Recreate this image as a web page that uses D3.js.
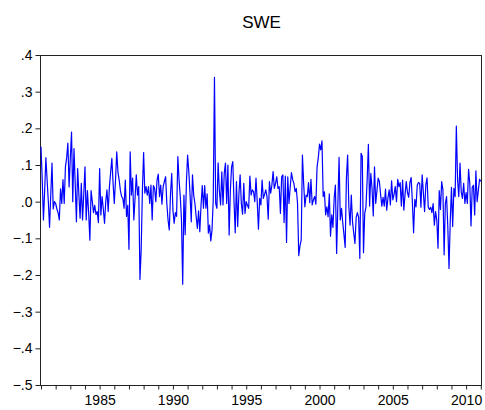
<!DOCTYPE html>
<html>
<head>
<meta charset="utf-8">
<script src="https://cdn.jsdelivr.net/npm/d3@7"></script>
<style>
  body { margin: 0; background: #fff; }
  text { font-family: "Liberation Sans", Arial, sans-serif; }
  .axis path { display: none; }
  .axis line { stroke: #222; }
  .axis text { fill: #000; font-size: 14px; }
</style>
</head>
<body>
<div class="container"></div>
<script>
const WIDTH = 485;
const HEIGHT = 410;
const LEFT = 41;
const RIGHT = 482;
const TOP = 55;
const BOTTOM = 385;

const TITLE = 'SWE';
const START_YEAR = 1981;

// monthly values, 1981M01 ...
const swe1981_1990 = [
  0.15, 0.06, -0.05, 0.03, 0.12, 0.06, 0.0, -0.07, 0.02, 0.105, -0.02, 0.0,
  -0.005, -0.02, -0.03, -0.05, 0.035, -0.005, 0.06, -0.005, 0.095, 0.12, 0.16, 0.04,
  0.12, 0.19, 0.0, 0.145, 0.05, -0.055, 0.09, 0.02, -0.045, 0.05, -0.05, 0.02,
  0.095, -0.05, 0.03, -0.03, -0.105, 0.03, 0.0, -0.03, -0.01, -0.035, -0.027, -0.057,
  0.09, -0.036, 0.014, -0.02, -0.059, 0.0, 0.032, -0.027, 0.04, 0.08, 0.118, 0.05,
  -0.005, 0.06, 0.136, 0.08, 0.059, 0.03, 0.014, 0.009, -0.018, 0.059, -0.04, -0.01,
  -0.13, 0.136, 0.018, 0.064, -0.05, 0.01, 0.073, 0.018, 0.041, -0.212, -0.132, 0.03,
  0.134, 0.023, 0.041, 0.018, 0.041, -0.005, 0.045, -0.05, 0.044, 0.036, 0.0, 0.059,
  0.075, 0.014, 0.045, -0.007, 0.041, 0.055, 0.068, -0.005, -0.05, -0.077, 0.02, 0.077,
  -0.023, -0.059, -0.03, -0.04, 0.123, 0.06, 0.014, -0.05, -0.225, 0.018, -0.09, 0.05
];
const swe1991_2000 = [
  0.127, 0.082, 0.02, -0.055, 0.073, 0.018, -0.005, -0.04, -0.073, -0.025, -0.082, -0.01,
  0.044, -0.018, 0.044, -0.018, 0.021, -0.086, -0.064, -0.107, -0.077, 0.005, 0.339, -0.005,
  -0.018, 0.106, 0.03, -0.009, 0.081, -0.009, 0.077, 0.105, -0.005, 0.1, -0.091, 0.03,
  0.095, 0.109, 0.0, -0.085, 0.055, -0.068, 0.02, 0.073, -0.005, -0.034, 0.05, -0.032,
  0.0, -0.01, -0.018, 0.07, 0.018, 0.032, 0.027, 0.0, 0.064, 0.0, -0.075, 0.009,
  -0.009, 0.059, 0.009, 0.02, 0.032, 0.014, -0.048, 0.055, 0.023, 0.045, 0.082, 0.036,
  0.05, 0.068, 0.036, 0.041, -0.032, 0.068, 0.073, -0.057, 0.07, -0.111, 0.068, -0.005,
  0.04, 0.079, 0.06, 0.05, 0.027, 0.036, -0.005, -0.147, -0.12, -0.105, 0.127, 0.05,
  -0.014, 0.018, 0.014, 0.052, -0.003, 0.061, -0.009, 0.005, 0.014, -0.007, 0.095, 0.12,
  0.157, 0.141, 0.166, 0.014, 0.027, -0.036, -0.014, -0.041, 0.021, -0.094, -0.036, -0.07
];
const swe2001_2011 = [
  0.01, 0.045, -0.141, -0.01, 0.121, -0.05, -0.018, -0.057, -0.09, -0.125, 0.064, 0.127,
  -0.014, -0.064, 0.018, -0.055, -0.086, -0.114, -0.043, -0.03, -0.043, -0.155, 0.132, 0.123,
  -0.139, -0.032, -0.015, 0.06, 0.156, -0.012, 0.077, 0.036, -0.039, 0.095, -0.005, 0.03,
  0.064, 0.055, 0.02, -0.012, 0.012, -0.012, 0.034, -0.023, 0.01, 0.032, -0.009, 0.057,
  0.005, 0.02, 0.041, 0.0, 0.061, 0.041, 0.052, -0.012, 0.059, -0.023, 0.02, 0.055,
  0.025, 0.012, 0.052, 0.066, 0.0, -0.085, 0.006, -0.014, 0.045, 0.052, 0.05, -0.015,
  0.073, 0.025, -0.027, 0.045, 0.065, -0.015, -0.021, -0.015, -0.03, -0.005, -0.064, -0.027,
  -0.05, -0.127, 0.03, -0.021, 0.055, 0.032, -0.145, -0.005, 0.014, -0.068, -0.182, -0.055,
  0.039, -0.068, 0.036, 0.014, 0.206, 0.06, 0.014, 0.105, 0.027, 0.009, 0.05, -0.005,
  0.025, -0.005, 0.088, 0.05, -0.066, 0.039, 0.045, -0.036, 0.084, 0.0, 0.03, 0.061,
  0.055
];

const yTicks = [-0.5, -0.4, -0.3, -0.2, -0.1, 0.0, 0.1, 0.2, 0.3, 0.4];
const xTickYears = d3.range(1981, 2012);
const xLabelYears = [1985, 1990, 1995, 2000, 2005, 2010];

var values = swe1981_1990.concat(swe1991_2000, swe2001_2011);
var data = values.map(function (v, i) {
  return { t: START_YEAR + i / 12, v: v };
});

var svg = d3.select('.container').append('svg')
  .attr('width', WIDTH)
  .attr('height', HEIGHT);

var x = d3.scaleLinear()
  .domain([START_YEAR, START_YEAR + 361 / 12])
  .range([LEFT, RIGHT]);

var y = d3.scaleLinear()
  .domain([-0.5, 0.4])
  .range([BOTTOM, TOP]);

var yFormat = function (d) {
  return d3.format('.1f')(d).replace('0.', '.');
};

var yAxis = d3.axisLeft(y)
  .tickValues(yTicks)
  .tickSize(5)
  .tickPadding(3)
  .tickFormat(yFormat);

svg.append('g')
  .classed('axis', true)
  .attr('transform', 'translate(' + (LEFT - 0.5) + ',0)')
  .call(yAxis);

var xAxis = d3.axisBottom(x)
  .tickValues(xTickYears)
  .tickSize(4)
  .tickPadding(6)
  .tickFormat(function (d) { return xLabelYears.indexOf(d) >= 0 ? d : ''; });

svg.append('g')
  .classed('axis', true)
  .attr('transform', 'translate(0,' + (BOTTOM + 0.5) + ')')
  .call(xAxis);

// frame
svg.append('rect')
  .attr('x', LEFT - 0.5)
  .attr('y', TOP + 0.5)
  .attr('width', RIGHT - LEFT)
  .attr('height', BOTTOM - TOP)
  .attr('fill', 'none')
  .attr('stroke', '#222')
  .attr('stroke-width', 1);

var line = d3.line()
  .x(function (d) { return x(d.t); })
  .y(function (d) { return y(d.v); });

svg.append('path')
  .attr('d', line(data))
  .attr('fill', 'none')
  .attr('stroke', '#0000ff')
  .attr('stroke-width', 1.2)
  .attr('stroke-linejoin', 'round');

svg.append('text')
  .attr('x', (LEFT + RIGHT) / 2)
  .attr('y', 28)
  .attr('text-anchor', 'middle')
  .attr('font-size', 17)
  .text(TITLE);
</script>
</body>
</html>
